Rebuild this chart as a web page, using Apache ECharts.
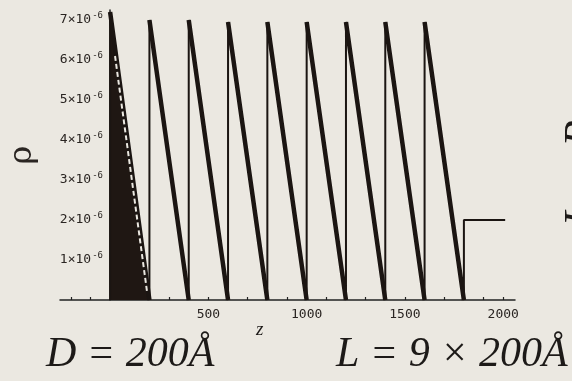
<!DOCTYPE html>
<html>
<head>
<meta charset="utf-8">
<script src="https://cdn.jsdelivr.net/npm/echarts@6/dist/echarts.min.js"></script>
<style>
html,body{margin:0;padding:0;background:#ebe8e1;}
#c{width:572px;height:381px;}
</style>
</head>
<body>
<div id="c"></div>
<script>
// ---- data ----
const toothStarts = [0, 200, 400, 600, 800, 1000, 1200, 1400, 1600];   // z (Å)
const toothPeaks  = [7.2e-6, 7.0e-6, 7.0e-6, 6.95e-6, 6.95e-6, 6.95e-6, 6.95e-6, 6.95e-6, 6.95e-6];
const toothEnds   = [200, 400, 600, 800, 1000, 1200, 1400, 1600, 1800];
const toothLows   = [0, 0, 0, 0, 0, 0, 0, 0, 0];
const tailZ   = [1800, 1800, 2010];
const tailRho = [0, 2.0e-6, 2.0e-6];
const firstDashZ   = [25, 188];
const firstDashRho = [6.1e-6, 0.2e-6];
const xTicks  = [-200,-100,0,100,200,300,400,500,600,700,800,900,1000,1100,1200,1300,1400,1500,1600,1700,1800,1900,2000];
const xLabels = [500, 1000, 1500, 2000];
const yLabels = [1e-6, 2e-6, 3e-6, 4e-6, 5e-6, 6e-6, 7e-6];

// ---- build series data ----
const profile = [];
toothStarts.forEach((z, i) => {
  profile.push([z, toothLows[i > 0 ? i - 1 : 0]]);
  profile.push([z, toothPeaks[i]]);
  profile.push([toothEnds[i], toothLows[i]]);
});
tailZ.forEach((z, i) => profile.push([z, tailRho[i]]));

const slopes = [];
toothStarts.forEach((z, i) => {
  slopes.push([z, toothPeaks[i]]);
  slopes.push([toothEnds[i], toothLows[i]]);
  slopes.push([toothEnds[i], '-']);
});

const firstArea = [[toothStarts[0], 0], [toothStarts[0], toothPeaks[0]], [toothEnds[0], toothLows[0]]];
const dash = firstDashZ.map((z, i) => [z, firstDashRho[i]]);

const ink = '#1b1512';
const chart = echarts.init(document.getElementById('c'), null, {renderer: 'canvas'});
chart.setOption({
  backgroundColor: '#ebe8e1',
  animation: false,
  grid: {left: 60, right: 57, top: 10, bottom: 81, containLabel: false, outerBoundsMode: 'none'},
  xAxis: {
    type: 'value', min: -255, max: 2060,
    splitLine: {show: false},
    axisLine: {lineStyle: {color: '#222', width: 1.5}},
    axisTick: {inside: true, length: 3, customValues: xTicks, lineStyle: {color: '#222', width: 1.2}},
    axisLabel: {customValues: xLabels, margin: 8, formatter: v => String(v), fontFamily: 'DejaVu Sans Mono', fontSize: 13, color: '#2a2522'}
  },
  yAxis: {
    type: 'value', min: 0, max: 7.25e-6,
    offset: -50,
    name: 'ρ', nameLocation: 'middle', nameGap: 71,
    nameTextStyle: {fontFamily: 'DejaVu Serif', fontSize: 32, color: '#2a2522'},
    splitLine: {show: false},
    axisLine: {onZero: false, lineStyle: {color: '#222', width: 1.5}},
    axisTick: {show: false},
    axisLabel: {
      customValues: yLabels, margin: 7,
      formatter: v => '{m|' + Math.round(v * 1e6) + '×10}{s|-6}',
      rich: {
        m: {fontFamily: 'DejaVu Sans Mono', fontSize: 13, color: '#2a2522'},
        s: {fontFamily: 'DejaVu Sans Mono', fontSize: 9, color: '#2a2522', padding: [0, 0, 9, 1]}
      }
    }
  },
  series: [
    {type: 'line', data: firstArea, symbol: 'none', lineStyle: {width: 0}, areaStyle: {color: '#1f1713', opacity: 1}, z: 2},
    {type: 'line', data: profile, symbol: 'none', lineStyle: {color: ink, width: 2}, z: 3},
    {type: 'line', data: slopes, symbol: 'none', connectNulls: false, lineStyle: {color: ink, width: 4.5}, z: 4},
    {type: 'line', data: dash, symbol: 'none', lineStyle: {color: '#ebe8e1', width: 2, type: [5, 3]}, z: 5}
  ],
  graphic: [
    {type: 'text', left: 46, top: 334, style: {text: 'D = 200Å', font: 'italic 42px "Liberation Serif"', fill: '#1d1a18'}},
    {type: 'text', left: 256, top: 320, style: {text: 'z', font: 'italic 19px "Liberation Serif"', fill: '#1d1a18'}},
    {type: 'text', left: 336, top: 334, style: {text: 'L = 9 × 200Å', font: 'italic 42px "Liberation Serif"', fill: '#1d1a18'}},
    {type: 'text', x: 560, y: 173, rotation: Math.PI / 2, style: {text: 'Log R', font: 'italic 44px "Liberation Serif"', fill: '#1d1a18', align: 'center', verticalAlign: 'top'}}
  ]
});
</script>
</body>
</html>
